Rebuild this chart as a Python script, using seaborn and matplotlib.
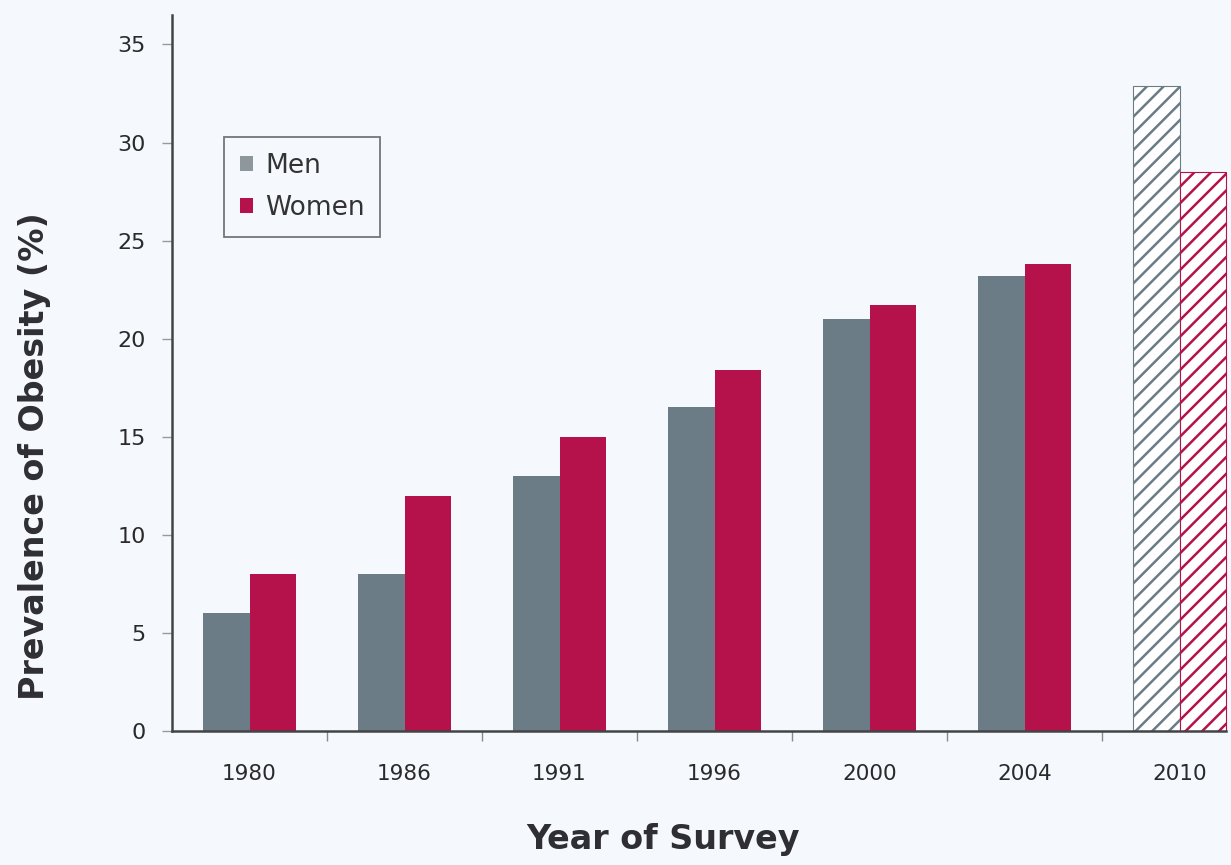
import numpy as np
import pandas as pd
import matplotlib
matplotlib.use("Agg")
import matplotlib.pyplot as plt
import seaborn as sns
from matplotlib.patches import Patch

# Survey years and obesity prevalence (%) by sex; 2010 is a projection
years = ["1980", "1986", "1991", "1996", "2000", "2004", "2010"]
men = [6.0, 8.0, 13.0, 16.5, 21.0, 23.2, 32.9]
women = [8.0, 12.0, 15.0, 18.4, 21.7, 23.8, 28.5]
projected_year = "2010"

men_color = "#6b7c86"
women_color = "#b5124b"
legend_men_color = "#8e979c"
bg_color = "#f5f9fd"

df = pd.DataFrame({
    "year": years * 2,
    "value": men + women,
    "sex": ["Men"] * len(years) + ["Women"] * len(years),
})

sns.set_theme(style="ticks")
plt.rcParams["font.family"] = ["DejaVu Sans"]
plt.rcParams["hatch.linewidth"] = 1.8

W, H = 1231, 865
fig = plt.figure(figsize=(W / 100, H / 100), dpi=100, facecolor=bg_color)
ax = fig.add_axes([172 / W, 134 / H, 1 - 172 / W, (731 - 15) / H])
ax.set_facecolor(bg_color)

sns.barplot(data=df, x="year", y="value", hue="sex", order=years,
            hue_order=["Men", "Women"], palette=[men_color, women_color],
            width=0.594, saturation=1, linewidth=0, legend=False, ax=ax)

# Projected values: hatched outline bars instead of solid fills
proj_idx = years.index(projected_year)
for container, col in zip(ax.containers, [men_color, women_color]):
    bar = container.patches[proj_idx]
    bar.set_facecolor("white")
    bar.set_edgecolor(col)
    bar.set_hatch("//")
    bar.set_linewidth(0.8)

ax.set_xlim(-0.5, -0.5 + (W - 172) / 155)
ax.set_ylim(0, 36.5)
ax.set_yticks(range(0, 36, 5))
ax.set_xticks(np.arange(len(years)))
ax.set_xticklabels(years)
ax.tick_params(axis="x", length=0, pad=24, labelsize=15.5, colors="#2a2a2a")
ax.tick_params(axis="y", length=7, width=1, pad=12, labelsize=16,
               colors="#2a2a2a", color="#999999")
# Separator ticks between survey years
ax.set_xticks(np.arange(len(years) - 1) + 0.5, minor=True)
ax.tick_params(axis="x", which="minor", length=7, width=1, color="#888888")

for s in ["top", "right"]:
    ax.spines[s].set_visible(False)
for s in ["left", "bottom"]:
    ax.spines[s].set_color("#444444")
    ax.spines[s].set_linewidth(1.8)
ax.spines["bottom"].set_bounds(-0.5, 6.3)

ax.set_xlabel("Year of Survey", fontsize=24, fontweight="bold", color="#2e2e33")
ax.xaxis.set_label_coords((663 - 172) / (W - 172), (731 - 823) / 716)
ax.set_ylabel("Prevalence of Obesity (%)", fontsize=24, fontweight="bold",
              color="#2e2e33")
ax.yaxis.set_label_coords((51 - 172) / (W - 172), (731 - 456) / 716)

handles = [Patch(facecolor=legend_men_color, edgecolor="none", label="Men"),
           Patch(facecolor=women_color, edgecolor="none", label="Women")]
leg = ax.legend(handles=handles, loc="upper left",
                bbox_to_anchor=((224 - 172) / (W - 172), (731 - 137) / 716),
                fontsize=19, frameon=True, fancybox=False, handlelength=0.5,
                handleheight=0.5, handletextpad=0.45, borderpad=0.6,
                labelspacing=0.6, borderaxespad=0)
leg.get_frame().set_edgecolor("#555555")
leg.get_frame().set_linewidth(1.3)
leg.get_frame().set_facecolor(bg_color)
for t in leg.get_texts():
    t.set_color("#333333")

fig.savefig("out.png", dpi=100, facecolor=bg_color)
